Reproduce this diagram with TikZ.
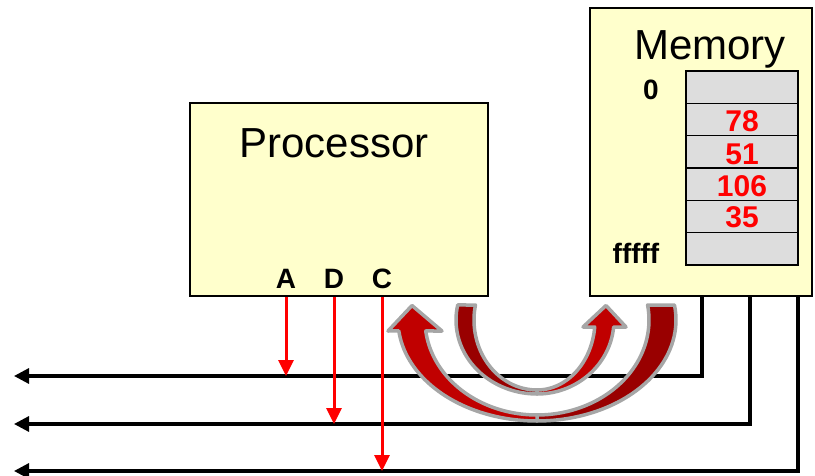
\documentclass[tikz,border=0pt]{standalone}
\usepackage{fontspec}
\setmainfont{Liberation Sans}
\usetikzlibrary{arrows.meta}
\definecolor{boxfill}{HTML}{FFFFCC}
\definecolor{cellfill}{HTML}{DDDDDD}
\definecolor{darkred}{HTML}{990000}
\definecolor{brightred}{HTML}{C00000}
\definecolor{outlinegray}{HTML}{A6A6A6}
\definecolor{sigred}{HTML}{FF0000}
\tikzset{
  unitbox/.style={draw=black, line width=1.6pt, fill=boxfill, minimum width=#1, inner sep=0pt},
  cellbox/.style={draw=black, line width=1.6pt, fill=cellfill, minimum width=112pt, minimum height=32.33pt, inner sep=0pt},
  title/.style={font=\fontsize{42}{48}\selectfont, anchor=base, inner sep=0pt},
  lab/.style={font=\fontsize{28}{32}\selectfont\bfseries, anchor=base, inner sep=0pt},
  num/.style={font=\fontsize{30}{34}\selectfont\bfseries, text=sigred, anchor=base, inner sep=0pt},
  bus/.style={line width=3.2pt, draw=black, {Triangle[length=15pt,width=15pt]}-},
  sig/.style={line width=3pt, draw=sigred, -{Triangle[length=16pt,width=15pt]}},
  darkpart/.style={fill=darkred, draw=outlinegray, line width=3.5pt, line join=round},
  brightpart/.style={fill=brightred, draw=outlinegray, line width=3.5pt, line join=round}
}
\begin{document}
\begin{tikzpicture}[x=1pt,y=-1pt]
\useasboundingbox (0,0) rectangle (815,476);

% boxes
\node[unitbox=298pt, minimum height=193pt] (proc) at (339,199.5) {};
\node[unitbox=222pt, minimum height=288pt] (mem) at (701,152) {};
\node[title] (ptitle) at (334,158) {Processor};
\node[title] (mtitle) at (710,60) {Memory};

% memory cells
\foreach \i in {0,...,5} {
  \node[cellbox] (cell\i) at (742,{71+32.33*(\i+0.5)}) {};
}
\node[lab] (zero) at (651,100) {0};
\node[lab] (top) at (636,263) {fffff};
\node[num] (n78) at (742,132) {78};
\node[num] (n51) at (742,164.5) {51};
\node[num] (n106) at (742,196.5) {106};
\node[num] (n35) at (742,228) {35};

% bus labels
\node[lab] (A) at (286,288) {A};
\node[lab] (D) at (334,288) {D};
\node[lab] (C) at (382,288) {C};

% buses
\coordinate (b1L) at (14,376);
\coordinate (b2L) at (14,424);
\coordinate (b3L) at (14,471);
\coordinate (t1) at (702,296);
\coordinate (t2) at (750,296);
\coordinate (t3) at (798,296);
\draw[bus] (b1L) -| (t1);
\draw[bus] (b2L) -| (t2);
\draw[bus] (b3L) -| (t3);

% block arrows
% outer arrow: tail (dark) right, head (bright) left
\draw[darkpart] plot[domain=-8.54:90, variable=\t, samples=40] ({537+139*cos(\t)},{320+101*sin(\t)})
  -- plot[domain=90:-9.08, variable=\t, samples=40] ({537+112*cos(\t)},{320+95*sin(\t)}) -- cycle;
\draw[brightpart] plot[domain=90:173.75, variable=\t, samples=40] ({537+139*cos(\t)},{320+101*sin(\t)})
  -- (388,331) -- (412,305.5) -- (442,331)
  -- plot[domain=173.35:90, variable=\t, samples=40] ({537+112*cos(\t)},{320+95*sin(\t)}) -- cycle;
% inner arrow: tail (dark) left, head (bright) right
\draw[darkpart] plot[domain=191.7:90, variable=\t, samples=40] ({537+81*cos(\t)},{320+74*sin(\t)})
  -- plot[domain=90:192.37, variable=\t, samples=40] ({537+63*cos(\t)},{320+70*sin(\t)}) -- cycle;
\draw[brightpart] plot[domain=90:5.43, variable=\t, samples=40] ({537+77*cos(\t)},{320+74*sin(\t)})
  -- (626,327) -- (606,305.5) -- (583,327)
  -- plot[domain=5.74:90, variable=\t, samples=40] ({537+58*cos(\t)},{320+70*sin(\t)}) -- cycle;

% signal arrows
\draw[sig] (proc.south -| A) -- (A |- b1L);
\draw[sig] (proc.south -| D) -- (D |- b2L);
\draw[sig] (proc.south -| C) -- (C |- b3L);
\end{tikzpicture}
\end{document}
